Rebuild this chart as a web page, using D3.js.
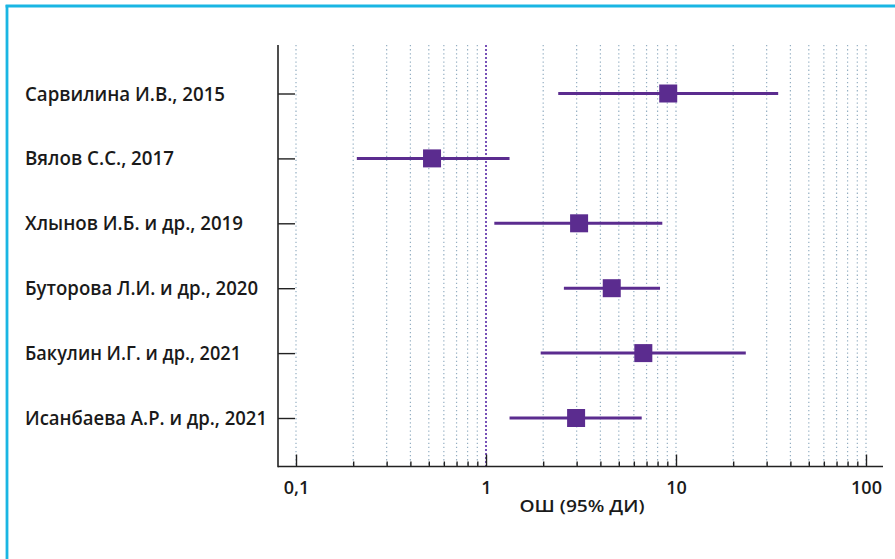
<!DOCTYPE html>
<html><head><meta charset="utf-8">
<script src="https://cdn.jsdelivr.net/npm/d3@7"></script>
<style>body{margin:0;background:#fff}svg{display:block}</style>
</head><body>
<svg id="c" width="895" height="559"></svg>
<script>
const studies = ["Сарвилина И.В., 2015","Вялов С.С., 2017","Хлынов И.Б. и др., 2019","Буторова Л.И. и др., 2020","Бакулин И.Г. и др., 2021","Исанбаева А.Р. и др., 2021"];
const orValues = [9.1, 0.52, 3.09, 4.59, 6.73, 2.98];
const ciLow = [2.40, 0.209, 1.106, 2.57, 1.94, 1.33];
const ciHigh = [34.5, 1.33, 8.47, 8.24, 23.3, 6.6];
const majorTicks = [0.1, 1, 10, 100];
const majorLabels = ["0,1", "1", "10", "100"];
const axisTitle = "ОШ (95% ДИ)";
const labelWidths = [200, 149, 218, 233, 216, 242];

const svg = d3.select("#c");
const purple = "#5b2c8f";
const font = "'Open Sans', 'Noto Sans', sans-serif";

// frame
svg.append("line").attr("x1",7).attr("x2",7).attr("y1",5).attr("y2",559).attr("stroke","#1ab6e3").attr("stroke-width",2.8);
svg.append("line").attr("x1",5.6).attr("x2",895).attr("y1",6).attr("y2",6).attr("stroke","#1ab6e3").attr("stroke-width",2.8);

const x = d3.scaleLog().domain([0.1,100]).range([296,866]);
const y = d3.scalePoint().domain(studies).range([93.5,418]);
const axisX0 = 278, axisY = 466.5, topY = 45;

const minor = [];
[0.1,1,10].forEach(d => { for (let k=1;k<10;k++) minor.push(+(d*k).toPrecision(3)); });
minor.push(100);

// grid
svg.append("g").selectAll("line").data(minor).join("line")
  .attr("x1",d=>x(d)).attr("x2",d=>x(d)).attr("y1",topY).attr("y2",axisY)
  .attr("stroke",d=>d===1?"#6a3fb0":"#93aec2")
  .attr("stroke-width",d=>d===1?1.8:1.2)
  .attr("stroke-dasharray",d=>d===1?"2,2":"1.3,2.8");

// x axis
const xAxis = d3.axisBottom(x).tickValues(minor).tickSizeInner(-5).tickSizeOuter(0).tickFormat("");
const gx = svg.append("g").attr("transform",`translate(0,${axisY})`).call(xAxis);
gx.select(".domain").remove();
gx.selectAll(".tick line").attr("stroke","#222").attr("stroke-width",1.4)
  .attr("y2",d=>majorTicks.includes(d)?-12:-5);
svg.append("line").attr("x1",axisX0).attr("x2",883).attr("y1",axisY).attr("y2",axisY).attr("stroke","#222").attr("stroke-width",1.6);

gx.selectAll(".tick").filter(d=>majorTicks.includes(d)).append("text")
  .attr("y",27).attr("fill","#1a1a1a").attr("text-anchor","middle")
  .style("font-family",font).style("font-size","18px").style("font-weight","600")
  .text(d=>majorLabels[majorTicks.indexOf(d)]);

svg.append("text").attr("x",582).attr("y",512).attr("text-anchor","middle")
  .attr("fill","#1a1a1a").style("font-family",font).style("font-size","17px").style("font-weight","600")
  .attr("textLength",125).attr("lengthAdjust","spacingAndGlyphs")
  .text(axisTitle);

// y axis
const yAxis = d3.axisRight(y).tickSizeInner(17).tickSizeOuter(0).tickFormat("");
const gy = svg.append("g").attr("transform",`translate(${axisX0},0)`).call(yAxis);
gy.select(".domain").remove();
gy.selectAll(".tick line").attr("stroke","#222").attr("stroke-width",1.4);
svg.append("line").attr("x1",axisX0).attr("x2",axisX0).attr("y1",topY).attr("y2",axisY+0.8).attr("stroke","#222").attr("stroke-width",1.6);

// labels
svg.append("g").selectAll("text").data(studies).join("text")
  .attr("x",25).attr("y",d=>y(d)+7).attr("fill","#1a1a1a")
  .style("font-family",font).style("font-size","19.5px").style("font-weight","600")
  .attr("textLength",(d,i)=>labelWidths[i]).attr("lengthAdjust","spacingAndGlyphs")
  .text(d=>d);

// CI lines
svg.append("g").selectAll("line").data(studies).join("line")
  .attr("x1",(d,i)=>x(ciLow[i])).attr("x2",(d,i)=>x(ciHigh[i]))
  .attr("y1",d=>y(d)).attr("y2",d=>y(d))
  .attr("stroke",purple).attr("stroke-width",3);

// squares
const s = 18;
svg.append("g").selectAll("rect").data(studies).join("rect")
  .attr("x",(d,i)=>x(orValues[i])-s/2).attr("y",d=>y(d)-s/2)
  .attr("width",s).attr("height",s).attr("fill",purple);
</script>
</body></html>
